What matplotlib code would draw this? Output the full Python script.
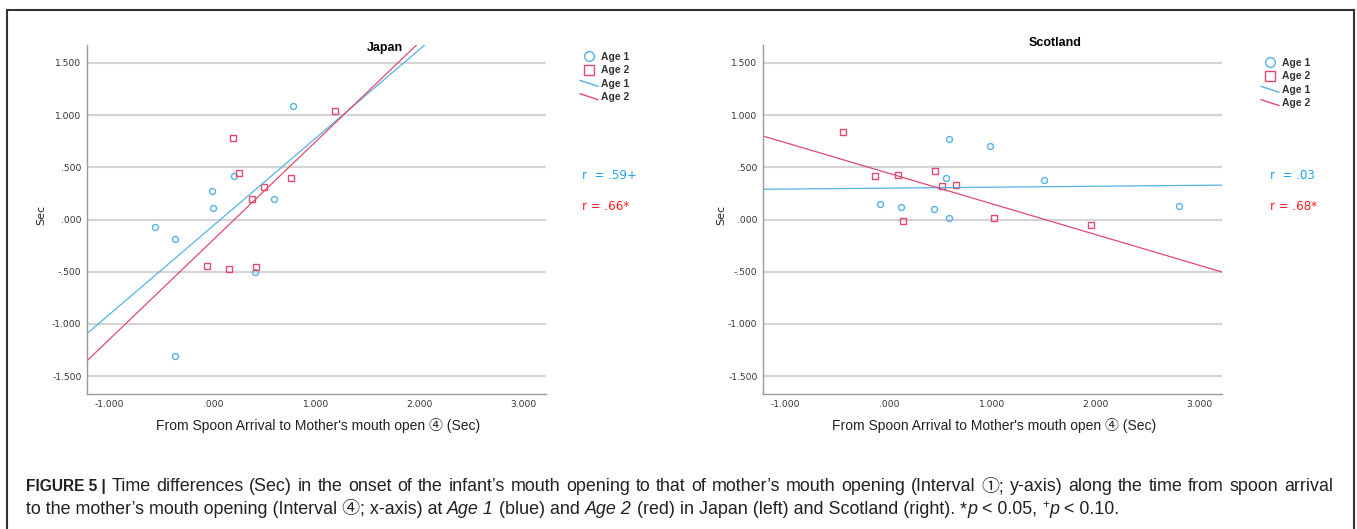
import numpy as np
import matplotlib.pyplot as plt
from matplotlib.lines import Line2D
from matplotlib.legend_handler import HandlerBase

plt.rcParams['font.family'] = ['Liberation Sans', 'Noto Sans CJK JP', 'DejaVu Sans']

# values (x: interval 4, y: interval 1, both in sec)
japan_age1_x = [0.772, 0.201, -0.013, 0.000, 0.587, -0.562, -0.369, 0.403, -0.369]
japan_age1_y = [1.089, 0.414, 0.268, 0.111, 0.194, -0.073, -0.188, -0.500, -1.306]
japan_age2_x = [1.183, 0.189, 0.248, 0.495, 0.373, 0.751, -0.063, 0.155, 0.411]
japan_age2_y = [1.035, 0.780, 0.446, 0.312, 0.194, 0.395, -0.446, -0.471, -0.455]

scot_age1_x = [0.579, 0.978, 1.503, 0.549, -0.092, 0.112, 0.433, 0.583, 2.801]
scot_age1_y = [0.771, 0.708, 0.381, 0.400, 0.146, 0.121, 0.102, 0.010, 0.130]
scot_age2_x = [-0.445, -0.133, 0.083, 0.445, 0.516, 0.649, 0.137, 1.011, 1.956]
scot_age2_y = [0.835, 0.416, 0.422, 0.463, 0.321, 0.330, -0.016, 0.013, -0.048]

titles = ['Japan', 'Scotland']
r_age1 = ['r  = .59+', 'r  = .03']
r_age2 = ['r = .66*', 'r = .68*']
x_ticks = [-1, 0, 1, 2, 3]
y_ticks = [-1.5, -1, -0.5, 0, 0.5, 1, 1.5]
x_label = "From Spoon Arrival to Mother's mouth open \u2463 (Sec)"
y_label = 'Sec'

blue = '#55b2e8'
red = '#df4a6e'
blue_txt = '#1ea5e6'
red_txt = '#ff1a1a'
ink = '#222222'


def spss_fmt(v, pos=None):
    if abs(v) < 1e-9:
        v = 0.0
    s = f'{v:.3f}'
    if s.startswith('0.'):
        s = s[1:]
    elif s.startswith('-0.'):
        s = '-' + s[2:]
    return s


class SlantLine(HandlerBase):
    # legend key drawn as a short slanted line, like the SPSS output
    def create_artists(self, legend, orig_handle, xdescent, ydescent,
                       width, height, fontsize, trans):
        line = Line2D([-xdescent, -xdescent + width],
                      [-ydescent + height * 0.85, -ydescent + height * 0.05],
                      color=orig_handle.get_color(), lw=1.0)
        line.set_transform(trans)
        return [line]


fig = plt.figure(figsize=(13.57, 5.29), dpi=100)
ax_j = fig.add_axes([87 / 1357, 1 - 394 / 529, 459 / 1357, 349 / 529])
ax_s = fig.add_axes([763 / 1357, 1 - 394 / 529, 459 / 1357, 349 / 529])

panels = [
    (ax_j, japan_age1_x, japan_age1_y, japan_age2_x, japan_age2_y),
    (ax_s, scot_age1_x, scot_age1_y, scot_age2_x, scot_age2_y),
]
title_pos = [(0.650, 0.991), (0.636, 1.007)]
legend_pos = [(1.063, 0.995), (1.074, 0.978)]
ylabel_x = [-0.089, -0.081]
r_x = [1.078, 1.105]

for i, (ax, x1, y1, x2, y2) in enumerate(panels):
    ax.set_xlim(-1.22, 3.22)
    ax.set_ylim(-1.67, 1.67)
    ax.set_xticks(x_ticks)
    ax.set_yticks(y_ticks)
    ax.xaxis.set_major_formatter(plt.FuncFormatter(spss_fmt))
    ax.yaxis.set_major_formatter(plt.FuncFormatter(spss_fmt))
    ax.tick_params(length=0, labelsize=6.6, labelcolor='#333333', pad=4)
    for lab in ax.get_xticklabels() + ax.get_yticklabels():
        lab.set_family('DejaVu Sans')
    ax.yaxis.grid(True, color='#d4d4d4', lw=1.6)
    ax.set_axisbelow(True)
    for side in ['top', 'right']:
        ax.spines[side].set_visible(False)
    for side in ['left', 'bottom']:
        ax.spines[side].set_color('#9a9a9a')
        ax.spines[side].set_linewidth(1.0)

    ax.plot(x1, y1, ls='none', marker='o', ms=4.3, mfc='none', mec=blue, mew=1.0)
    ax.plot(x2, y2, ls='none', marker='s', ms=4.3, mfc='none', mec=red, mew=1.0)

    xs = np.array(ax.get_xlim())
    fit1 = np.polyfit(x1, y1, 1)
    fit2 = np.polyfit(x2, y2, 1)
    ax.plot(xs, np.polyval(fit1, xs), color=blue, lw=0.9)
    ax.plot(xs, np.polyval(fit2, xs), color=red, lw=0.9)

    ax.text(title_pos[i][0], title_pos[i][1], titles[i], transform=ax.transAxes,
            ha='center', va='center', fontsize=9, fontweight='bold')

    ax.set_xlabel(x_label, fontsize=10, color=ink)
    ax.xaxis.set_label_coords(0.503, -0.070)
    ax.set_ylabel(y_label, fontsize=8, color=ink, family='DejaVu Sans')
    ax.yaxis.set_label_coords(ylabel_x[i], 0.513)

    handles = [
        Line2D([], [], ls='none', marker='o', ms=7, mfc='none', mec=blue, mew=1.0),
        Line2D([], [], ls='none', marker='s', ms=7, mfc='none', mec=red, mew=1.0),
        Line2D([], [], color=blue),
        Line2D([], [], color=red),
    ]
    leg = ax.legend(handles, ['Age 1', 'Age 2', 'Age 1', 'Age 2'],
                    loc='upper left', bbox_to_anchor=legend_pos[i],
                    frameon=False, fontsize=7.5, handlelength=1.7,
                    handletextpad=0.3, labelspacing=0.32, borderpad=0,
                    handler_map={handles[2]: SlantLine(), handles[3]: SlantLine()})
    for t in leg.get_texts():
        t.set_fontweight('bold')
        t.set_color('#333333')

    ax.text(r_x[i], 0.6275, r_age1[i], transform=ax.transAxes, ha='left', va='center',
            fontsize=8.6, color=blue_txt, family='DejaVu Sans')
    ax.text(r_x[i], 0.536, r_age2[i], transform=ax.transAxes, ha='left', va='center',
            fontsize=8.6, color=red_txt, family='DejaVu Sans')

# outer frame of the figure panel
frame_kw = dict(color='#333333', lw=1.5, transform=fig.transFigure)
fig.add_artist(Line2D([7 / 1357, 1354 / 1357], [1 - 10 / 529, 1 - 10 / 529], **frame_kw))
fig.add_artist(Line2D([7 / 1357, 7 / 1357], [0, 1 - 10 / 529], **frame_kw))
fig.add_artist(Line2D([1354 / 1357, 1354 / 1357], [0, 1 - 10 / 529], **frame_kw))

# caption: first line justified word by word, second line ragged
cap_size = 12.9
line1 = ("Time differences (Sec) in the onset of the infant\u2019s mouth opening to that of "
         "mother\u2019s mouth opening (Interval \u2460; y-axis) along the time from spoon arrival")
line1_words = [('FIGURE 5 |', 'bold')] + [(w, 'normal') for w in line1.split(' ')]
line2 = [
    ("to the mother\u2019s mouth opening (Interval \u2463; x-axis) at ", 'normal', 0, cap_size),
    ("Age 1", 'italic', 0, cap_size),
    (" (blue) and ", 'normal', 0, cap_size),
    ("Age 2", 'italic', 0, cap_size),
    (" (red) in Japan (left) and Scotland (right). ", 'normal', 0, cap_size),
    ("*", 'normal', 0, cap_size),
    ("p", 'italic', 0, cap_size),
    (" < 0.05, ", 'normal', 0, cap_size),
    ("+", 'normal', 5, 8.5),
    ("p", 'italic', 0, cap_size),
    (" < 0.10.", 'normal', 0, cap_size),
]

renderer = fig.canvas.get_renderer()
x_left, x_right = 26 / 1357, 1333 / 1357
words = []
for w, weight in line1_words:
    if weight == 'bold':
        t = fig.text(x_left, 1 - 491 / 529, w, fontsize=11.2, fontweight='bold',
                     color=ink, va='baseline', ha='left')
    else:
        t = fig.text(x_left, 1 - 491 / 529, w, fontsize=cap_size, color=ink,
                     va='baseline', ha='left')
    words.append(t)
widths = [t.get_window_extent(renderer).width / fig.bbox.width for t in words]
gap = (x_right - x_left - sum(widths)) / (len(words) - 1)
xpos = x_left
for t, wd in zip(words, widths):
    t.set_x(xpos)
    xpos += wd + gap

first = fig.text(x_left, 1 - 514 / 529, line2[0][0], fontsize=cap_size,
                 color=ink, va='baseline', ha='left')
prev, prev_rise = first, 0
for txt, style, rise, size in line2[1:]:
    prev = ax_j.annotate(txt, xy=(1, 0), xycoords=prev, xytext=(0, rise - prev_rise),
                         textcoords='offset points', va='bottom', ha='left',
                         fontsize=size, fontstyle=style, color=ink)
    prev_rise = rise

plt.savefig('out.png', dpi=100)
